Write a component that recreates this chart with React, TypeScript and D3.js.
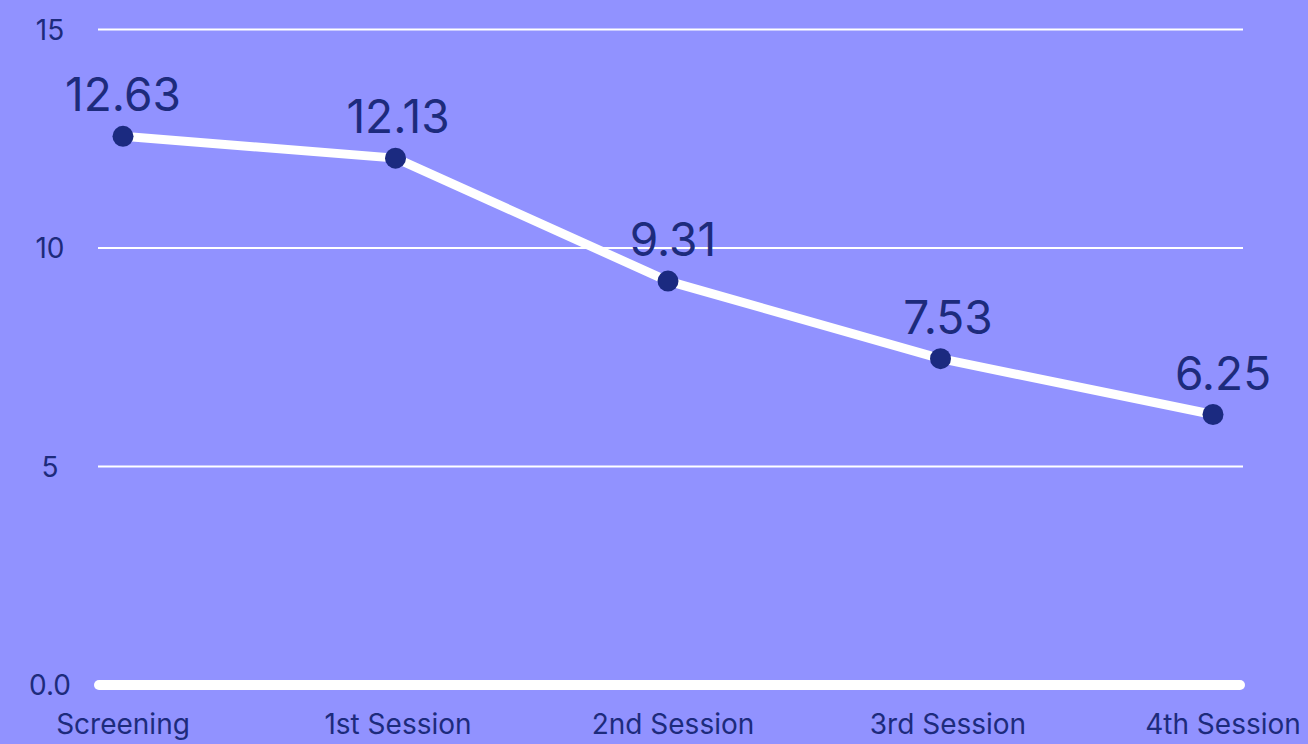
import React, { useEffect, useRef } from "react";
import * as d3 from "d3";

const categories = ["Screening", "1st Session", "2nd Session", "3rd Session", "4th Session"];
const values = [12.63, 12.13, 9.31, 7.53, 6.25];
const yTicks = [0, 5, 10, 15];
const yTickLabels = ["0.0", "5", "10", "15"];

const W = 1308;
const H = 744;
const BG = "#9192FF";
const NAVY = "#1D2B7C";
const FONT = "Inter, 'Noto Sans', sans-serif";

export default function App() {
  const ref = useRef<SVGSVGElement | null>(null);

  useEffect(() => {
    const svg = d3.select(ref.current);
    svg.selectAll("*").remove();

    // point positions and label positions (labels sit on a slightly wider band)
    const x = d3.scalePoint<string>().domain(categories).range([123, 1213]);
    const xLabel = d3.scalePoint<string>().domain(categories).range([123, 1223]);
    const y = d3.scaleLinear().domain([0, 15]).range([685, 29.5]);
    const yPts = d3.scaleLinear().domain([0, 15]).range([687, 33]);

    svg.append("rect").attr("width", W).attr("height", H).attr("fill", BG);

    // grid lines
    svg
      .append("g")
      .selectAll("line")
      .data(yTicks.filter((t) => t !== 0))
      .join("line")
      .attr("x1", 98)
      .attr("x2", 1243)
      .attr("y1", (d) => y(d))
      .attr("y2", (d) => y(d))
      .attr("stroke", "#ffffff")
      .attr("stroke-width", 2);

    // baseline
    svg
      .append("line")
      .attr("x1", 99)
      .attr("x2", 1240)
      .attr("y1", y(0))
      .attr("y2", y(0))
      .attr("stroke", "#ffffff")
      .attr("stroke-width", 10)
      .attr("stroke-linecap", "round");

    // y tick labels
    svg
      .append("g")
      .selectAll("text")
      .data(yTicks)
      .join("text")
      .attr("x", 50)
      .attr("y", (d) => y(d))
      .attr("dy", "0.36em")
      .attr("text-anchor", "middle")
      .attr("font-family", FONT)
      .attr("font-size", 28)
      .attr("fill", NAVY)
      .text((_, i) => yTickLabels[i]);

    // x labels
    svg
      .append("g")
      .selectAll("text")
      .data(categories)
      .join("text")
      .attr("x", (d) => xLabel(d)!)
      .attr("y", 734)
      .attr("text-anchor", "middle")
      .attr("font-family", FONT)
      .attr("font-size", 28)
      .attr("fill", NAVY)
      .text((d) => d);

    const pts = categories.map((c, i) => ({ c, v: values[i] }));

    const line = d3
      .line<{ c: string; v: number }>()
      .x((d) => x(d.c)!)
      .y((d) => yPts(d.v));

    svg
      .append("path")
      .datum(pts)
      .attr("d", line)
      .attr("fill", "none")
      .attr("stroke", "#ffffff")
      .attr("stroke-width", 9)
      .attr("stroke-linejoin", "round");

    svg
      .append("g")
      .selectAll("circle")
      .data(pts)
      .join("circle")
      .attr("cx", (d) => x(d.c)!)
      .attr("cy", (d) => yPts(d.v))
      .attr("r", 10.5)
      .attr("fill", "#1B2A80");

    svg
      .append("g")
      .selectAll("text")
      .data(pts)
      .join("text")
      .attr("x", (d) => xLabel(d.c)!)
      .attr("y", (d) => yPts(d.v) - 25)
      .attr("text-anchor", "middle")
      .attr("font-family", FONT)
      .attr("font-size", 46)
      .attr("fill", NAVY)
      .text((d) => d.v.toFixed(2));
  }, []);

  return (
    <svg
      ref={ref}
      width={W}
      height={H}
      style={{ position: "fixed", left: 0, top: 0, display: "block" }}
    />
  );
}
